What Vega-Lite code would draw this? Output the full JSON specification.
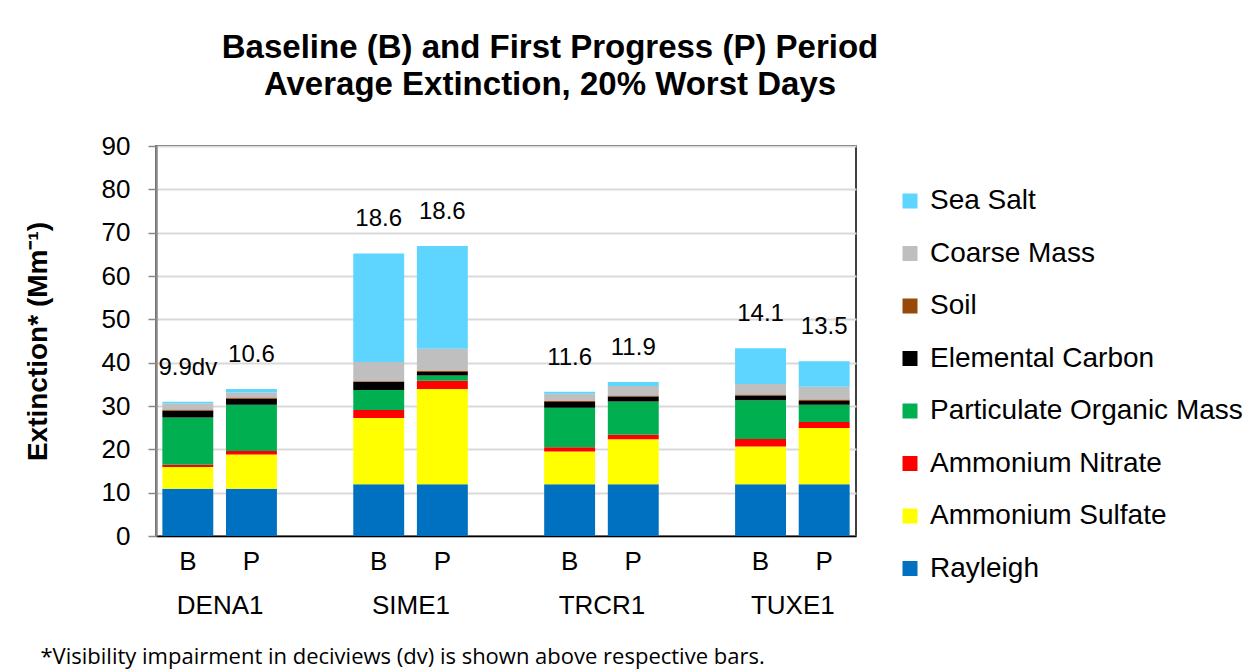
{
  "$schema": "https://vega.github.io/schema/vega-lite/v6.json",
  "width": 700,
  "height": 390,
  "autosize": {"type": "none"},
  "padding": {"left": 156, "top": 146, "right": 396, "bottom": 133},
  "background": "#ffffff",
  "config": {
    "font": "Liberation Sans",
    "view": {"stroke": "#000000", "strokeWidth": 1.5}
  },
  "title": {
    "text": ["Baseline (B) and First Progress (P) Period", "Average Extinction, 20% Worst Days"],
    "font": "Liberation Sans",
    "fontSize": 33,
    "fontWeight": "bold",
    "color": "#000000",
    "lineHeight": 37,
    "anchor": "middle",
    "frame": "group",
    "dx": 44,
    "offset": 31
  },
  "datasets": {
    "dv": [
      {"slot": "DENA1 B", "label": "9.9dv"},
      {"slot": "DENA1 P", "label": "10.6"},
      {"slot": "SIME1 B", "label": "18.6"},
      {"slot": "SIME1 P", "label": "18.6"},
      {"slot": "TRCR1 B", "label": "11.6"},
      {"slot": "TRCR1 P", "label": "11.9"},
      {"slot": "TUXE1 B", "label": "14.1"},
      {"slot": "TUXE1 P", "label": "13.5"}
    ],
    "sites": [
      {"site": "DENA1"}, {"site": "SIME1"}, {"site": "TRCR1"}, {"site": "TUXE1"}
    ],
    "ext": [
      {"slot": "DENA1 B", "comp": "Rayleigh", "ord": 1, "value": 10.9},
      {"slot": "DENA1 B", "comp": "Ammonium Sulfate", "ord": 2, "value": 5.0},
      {"slot": "DENA1 B", "comp": "Ammonium Nitrate", "ord": 3, "value": 0.55},
      {"slot": "DENA1 B", "comp": "Particulate Organic Mass", "ord": 4, "value": 10.9},
      {"slot": "DENA1 B", "comp": "Elemental Carbon", "ord": 5, "value": 1.55},
      {"slot": "DENA1 B", "comp": "Soil", "ord": 6, "value": 0.3},
      {"slot": "DENA1 B", "comp": "Coarse Mass", "ord": 7, "value": 1.4},
      {"slot": "DENA1 B", "comp": "Sea Salt", "ord": 8, "value": 0.4},
      {"slot": "DENA1 P", "comp": "Rayleigh", "ord": 1, "value": 10.9},
      {"slot": "DENA1 P", "comp": "Ammonium Sulfate", "ord": 2, "value": 7.9},
      {"slot": "DENA1 P", "comp": "Ammonium Nitrate", "ord": 3, "value": 0.8},
      {"slot": "DENA1 P", "comp": "Particulate Organic Mass", "ord": 4, "value": 10.7},
      {"slot": "DENA1 P", "comp": "Elemental Carbon", "ord": 5, "value": 1.4},
      {"slot": "DENA1 P", "comp": "Soil", "ord": 6, "value": 0.25},
      {"slot": "DENA1 P", "comp": "Coarse Mass", "ord": 7, "value": 1.15},
      {"slot": "DENA1 P", "comp": "Sea Salt", "ord": 8, "value": 0.85},
      {"slot": "SIME1 B", "comp": "Rayleigh", "ord": 1, "value": 11.95},
      {"slot": "SIME1 B", "comp": "Ammonium Sulfate", "ord": 2, "value": 15.3},
      {"slot": "SIME1 B", "comp": "Ammonium Nitrate", "ord": 3, "value": 1.85},
      {"slot": "SIME1 B", "comp": "Particulate Organic Mass", "ord": 4, "value": 4.6},
      {"slot": "SIME1 B", "comp": "Elemental Carbon", "ord": 5, "value": 1.85},
      {"slot": "SIME1 B", "comp": "Soil", "ord": 6, "value": 0.15},
      {"slot": "SIME1 B", "comp": "Coarse Mass", "ord": 7, "value": 4.45},
      {"slot": "SIME1 B", "comp": "Sea Salt", "ord": 8, "value": 25.05},
      {"slot": "SIME1 P", "comp": "Rayleigh", "ord": 1, "value": 11.95},
      {"slot": "SIME1 P", "comp": "Ammonium Sulfate", "ord": 2, "value": 21.95},
      {"slot": "SIME1 P", "comp": "Ammonium Nitrate", "ord": 3, "value": 1.9},
      {"slot": "SIME1 P", "comp": "Particulate Organic Mass", "ord": 4, "value": 1.25},
      {"slot": "SIME1 P", "comp": "Elemental Carbon", "ord": 5, "value": 0.8},
      {"slot": "SIME1 P", "comp": "Soil", "ord": 6, "value": 0.2},
      {"slot": "SIME1 P", "comp": "Coarse Mass", "ord": 7, "value": 5.15},
      {"slot": "SIME1 P", "comp": "Sea Salt", "ord": 8, "value": 23.75},
      {"slot": "TRCR1 B", "comp": "Rayleigh", "ord": 1, "value": 11.95},
      {"slot": "TRCR1 B", "comp": "Ammonium Sulfate", "ord": 2, "value": 7.55},
      {"slot": "TRCR1 B", "comp": "Ammonium Nitrate", "ord": 3, "value": 1.0},
      {"slot": "TRCR1 B", "comp": "Particulate Organic Mass", "ord": 4, "value": 9.1},
      {"slot": "TRCR1 B", "comp": "Elemental Carbon", "ord": 5, "value": 1.3},
      {"slot": "TRCR1 B", "comp": "Soil", "ord": 6, "value": 0.25},
      {"slot": "TRCR1 B", "comp": "Coarse Mass", "ord": 7, "value": 1.7},
      {"slot": "TRCR1 B", "comp": "Sea Salt", "ord": 8, "value": 0.45},
      {"slot": "TRCR1 P", "comp": "Rayleigh", "ord": 1, "value": 11.95},
      {"slot": "TRCR1 P", "comp": "Ammonium Sulfate", "ord": 2, "value": 10.4},
      {"slot": "TRCR1 P", "comp": "Ammonium Nitrate", "ord": 3, "value": 1.0},
      {"slot": "TRCR1 P", "comp": "Particulate Organic Mass", "ord": 4, "value": 7.7},
      {"slot": "TRCR1 P", "comp": "Elemental Carbon", "ord": 5, "value": 1.15},
      {"slot": "TRCR1 P", "comp": "Soil", "ord": 6, "value": 0.25},
      {"slot": "TRCR1 P", "comp": "Coarse Mass", "ord": 7, "value": 2.15},
      {"slot": "TRCR1 P", "comp": "Sea Salt", "ord": 8, "value": 0.95},
      {"slot": "TUXE1 B", "comp": "Rayleigh", "ord": 1, "value": 11.95},
      {"slot": "TUXE1 B", "comp": "Ammonium Sulfate", "ord": 2, "value": 8.7},
      {"slot": "TUXE1 B", "comp": "Ammonium Nitrate", "ord": 3, "value": 1.75},
      {"slot": "TUXE1 B", "comp": "Particulate Organic Mass", "ord": 4, "value": 8.95},
      {"slot": "TUXE1 B", "comp": "Elemental Carbon", "ord": 5, "value": 1.1},
      {"slot": "TUXE1 B", "comp": "Soil", "ord": 6, "value": 0.2},
      {"slot": "TUXE1 B", "comp": "Coarse Mass", "ord": 7, "value": 2.45},
      {"slot": "TUXE1 B", "comp": "Sea Salt", "ord": 8, "value": 8.25},
      {"slot": "TUXE1 P", "comp": "Rayleigh", "ord": 1, "value": 11.95},
      {"slot": "TUXE1 P", "comp": "Ammonium Sulfate", "ord": 2, "value": 12.95},
      {"slot": "TUXE1 P", "comp": "Ammonium Nitrate", "ord": 3, "value": 1.4},
      {"slot": "TUXE1 P", "comp": "Particulate Organic Mass", "ord": 4, "value": 4.0},
      {"slot": "TUXE1 P", "comp": "Elemental Carbon", "ord": 5, "value": 0.85},
      {"slot": "TUXE1 P", "comp": "Soil", "ord": 6, "value": 0.35},
      {"slot": "TUXE1 P", "comp": "Coarse Mass", "ord": 7, "value": 2.95},
      {"slot": "TUXE1 P", "comp": "Sea Salt", "ord": 8, "value": 5.9}
    ]
  },
  "layer": [
    {
      "layer": [
        {
          "data": {"name": "ext"},
          "mark": {"type": "bar"},
          "encoding": {
            "x": {
              "field": "slot",
              "type": "nominal",
              "sort": null,
              "scale": {
                "domain": ["DENA1 B", "DENA1 P", "gap1", "SIME1 B", "SIME1 P", "gap2", "TRCR1 B", "TRCR1 P", "gap3", "TUXE1 B", "TUXE1 P"],
                "paddingInner": 0.2,
                "paddingOuter": 0.1
              },
              "axis": {
                "title": null,
                "orient": "bottom",
                "labelExpr": "indexof(datum.value, 'gap') >= 0 ? '' : slice(datum.value, -1)",
                "labelAngle": 0,
                "labelFont": "Liberation Sans",
                "labelFontSize": 26,
                "labelColor": "#000000",
                "labelPadding": 12,
                "ticks": false,
                "domainColor": "#000000",
                "domainWidth": 1.5
              }
            },
            "y": {
              "field": "value",
              "type": "quantitative",
              "aggregate": "sum",
              "stack": "zero",
              "scale": {"domain": [0, 90], "nice": false},
              "axis": {
                "title": "Extinction* (Mm⁻¹)",
                "titleFont": "Liberation Sans",
                "titleFontSize": 28,
                "titleFontWeight": "bold",
                "titleColor": "#000000",
                "titlePadding": 49,
                "values": [0, 10, 20, 30, 40, 50, 60, 70, 80, 90],
                "labelFont": "Liberation Sans",
                "labelFontSize": 26,
                "labelColor": "#000000",
                "labelPadding": 18,
                "tickSize": 8,
                "tickColor": "#888888",
                "tickWidth": 1.5,
                "domainColor": "#888888",
                "domainWidth": 2.5,
                "gridColor": "#d9d9d9",
                "gridWidth": 2
              }
            },
            "color": {
              "field": "comp",
              "type": "nominal",
              "scale": {
                "domain": ["Sea Salt", "Coarse Mass", "Soil", "Elemental Carbon", "Particulate Organic Mass", "Ammonium Nitrate", "Ammonium Sulfate", "Rayleigh"],
                "range": ["#5dd5ff", "#bfbfbf", "#984807", "#000000", "#00b050", "#ff0000", "#ffff00", "#0070c0"]
              },
              "legend": {
                "title": null,
                "orient": "none",
                "legendX": 740,
                "legendY": 41,
                "padding": 0,
                "symbolType": "square",
                "symbolSize": 225,
                "symbolStrokeWidth": 0,
                "symbolOpacity": 1,
                "labelFont": "Liberation Sans",
                "labelFontSize": 28,
                "labelColor": "#000000",
                "labelOffset": 6,
                "rowPadding": 24.5,
                "labelLimit": 400
              }
            },
            "order": {"field": "ord", "type": "quantitative", "sort": "ascending"}
          }
        },
        {
          "data": {"name": "ext"},
          "transform": [
            {"aggregate": [{"op": "sum", "field": "value", "as": "total"}], "groupby": ["slot"]},
            {"lookup": "slot", "from": {"data": {"name": "dv"}, "key": "slot", "fields": ["label"]}}
          ],
          "mark": {"type": "text", "font": "Liberation Sans", "fontSize": 24, "color": "#000000", "baseline": "middle", "align": "center", "dy": -34},
          "encoding": {
            "x": {"field": "slot", "type": "nominal", "sort": null},
            "y": {"field": "total", "type": "quantitative"},
            "text": {"field": "label", "type": "nominal"}
          }
        }
      ]
    },
    {
      "data": {"name": "sites"},
      "mark": {"type": "point", "opacity": 0},
      "encoding": {
        "x": {
          "field": "site",
          "type": "nominal",
          "sort": null,
          "scale": {"type": "point", "padding": 0.3333},
          "axis": {
            "orient": "bottom",
            "offset": 0,
            "labelAngle": 0,
            "labelFont": "Liberation Sans",
            "labelFontSize": 26,
            "labelColor": "#000000",
            "labelPadding": 56,
            "ticks": false,
            "domain": false,
            "grid": false,
            "title": "*Visibility impairment in deciviews (dv) is shown above respective bars.",
            "titleFont": "Open Sans",
            "titleFontSize": 22,
            "titleFontWeight": "normal",
            "titleColor": "#000000",
            "titleAnchor": "start",
            "titleAlign": "left",
            "titleBaseline": "middle",
            "titleX": -116,
            "titleY": 120
          }
        }
      }
    }
  ],
  "resolve": {"scale": {"x": "independent"}}
}
